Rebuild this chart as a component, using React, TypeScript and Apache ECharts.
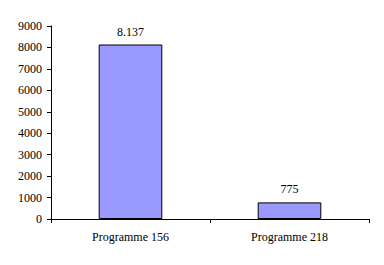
import React, { useEffect, useRef } from "react";
import * as echarts from "echarts";

const categories = ["Programme 156", "Programme 218"];
const values = [8137, 775];
const valueLabels = ["8.137", "775"];
const yTicks = [0, 1000, 2000, 3000, 4000, 5000, 6000, 7000, 8000, 9000];

export default function App() {
  const ref = useRef<HTMLDivElement>(null);
  useEffect(() => {
    if (!ref.current) return;
    const chart = echarts.init(ref.current, null, { renderer: "svg" });
    const font = "Times New Roman, Liberation Serif, serif";
    chart.setOption({
      animation: false,
      backgroundColor: "#ffffff",
      textStyle: { fontFamily: font },
      grid: { left: 51, right: 15, top: 26, bottom: 46, containLabel: false },
      xAxis: {
        type: "category",
        data: categories,
        axisLine: { lineStyle: { color: "#000", width: 1 } },
        axisTick: { show: true, alignWithLabel: false, length: 4, lineStyle: { color: "#000" } },
        axisLabel: { color: "#000", fontFamily: font, fontSize: 12, margin: 12 },
        splitLine: { show: false },
      },
      yAxis: {
        type: "value",
        min: yTicks[0],
        max: yTicks[yTicks.length - 1],
        interval: 1000,
        axisLine: { show: true, lineStyle: { color: "#000", width: 1 } },
        axisTick: { show: true, length: 4, lineStyle: { color: "#000" } },
        axisLabel: {
          color: "#000",
          fontFamily: font,
          fontSize: 12,
          margin: 9,
          formatter: (v: number) => String(v),
        },
        splitLine: { show: false },
      },
      series: [
        {
          type: "bar",
          data: values,
          barWidth: "40%",
          itemStyle: { color: "#9999FF", borderColor: "#000", borderWidth: 1 },
          label: {
            show: true,
            position: "top",
            distance: 7,
            color: "#000",
            fontFamily: font,
            fontSize: 12,
            formatter: (p: any) => valueLabels[p.dataIndex],
          },
        },
      ],
    });
    return () => chart.dispose();
  }, []);
  return (
    <div
      ref={ref}
      style={{ position: "fixed", left: 0, top: 0, width: 384, height: 265, background: "#fff" }}
    />
  );
}
